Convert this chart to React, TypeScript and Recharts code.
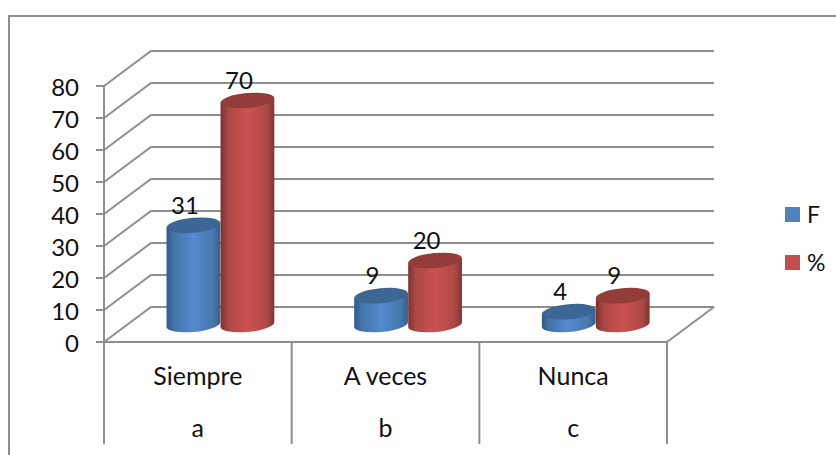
import React from 'react';
import { BarChart, Bar, XAxis, YAxis, CartesianGrid, Legend, LabelList } from 'recharts';

const categories = ['Siempre', 'A veces', 'Nunca'];
const subCategories = ['a', 'b', 'c'];
const valuesF = [31, 9, 4];
const valuesPct = [70, 20, 9];
const yTicks = [0, 10, 20, 30, 40, 50, 60, 70, 80];

const data = categories.map((name, i) => ({ name, sub: subCategories[i], F: valuesF[i], pct: valuesPct[i] }));

const FONT = 'Lato, sans-serif';
const TEXT = '#111';
const LINE = '#8e8e8e';
// depth of the fake 3D box
const DX = 47;
const DY = 35;
const TILT = (5.3 * Math.PI) / 180;
const RY = 7.5;

function GridLine(props: any) {
  const { x1, y1, x2, index } = props;
  return (
    <g fill="none" stroke={LINE} strokeWidth={2}>
      <path d={`M${x1},${y1} L${x1 + DX},${y1 - DY} L${x2 + DX},${y1 - DY}`} />
      {index === 0 || y1 > 340 ? <path d={`M${x2 + DX},${y1 - DY} L${x2},${y1}`} /> : null}
    </g>
  );
}

function Cylinder(props: any) {
  const { x, y, width, height, gradient, topColor } = props;
  const cx = x + width / 2 + DX / 2 - 0.5;
  const top = y - DY / 2;
  const bottom = y + height - DY / 2;
  const rx = width / 2;
  const ex = rx * Math.cos(TILT);
  const ey = rx * Math.sin(TILT);
  const rot = -5.3;
  const body = `M${cx - ex},${top + ey} L${cx - ex},${bottom + ey} A${rx},${RY} ${rot} 0 0 ${cx + ex},${bottom - ey} L${cx + ex},${top - ey} Z`;
  return (
    <g>
      <path d={body} fill={`url(#${gradient})`} />
      <ellipse cx={cx} cy={top} rx={rx} ry={RY} fill={topColor} transform={`rotate(${rot} ${cx} ${top})`} />
    </g>
  );
}

function BarValue(props: any) {
  const { x, y, width, value } = props;
  return (
    <text x={x + width / 2 + DX / 2 - 9} y={y - DY / 2 - 21} textAnchor="middle" dominantBaseline="central" fontFamily={FONT} fontSize={24} fill={TEXT}>
      {value}
    </text>
  );
}

function CategoryTick(props: any) {
  const { x, y, index, payload, width, visibleTicksCount } = props;
  const band = width / visibleTicksCount;
  const left = x - band / 2;
  const right = x + band / 2;
  return (
    <g>
      <line x1={left} x2={left} y1={y} y2={444} stroke={LINE} strokeWidth={2} />
      {index === categories.length - 1 ? <line x1={right} x2={right} y1={y} y2={444} stroke={LINE} strokeWidth={2} /> : null}
      <text x={x} y={375} textAnchor="middle" dominantBaseline="central" fontFamily={FONT} fontSize={25} fill={TEXT}>
        {payload.value}
      </text>
      <text x={x} y={427} textAnchor="middle" dominantBaseline="central" fontFamily={FONT} fontSize={25} fill={TEXT}>
        {subCategories[index]}
      </text>
    </g>
  );
}

function LegendBox(props: any) {
  return (
    <div>
      {props.payload.map((item: any) => (
        <div key={item.value} style={{ display: 'flex', alignItems: 'center', height: 48, fontFamily: FONT, fontSize: 23, color: TEXT }}>
          <span style={{ width: 15, height: 15, background: item.color, marginRight: 7 }} />
          {item.value}
        </div>
      ))}
    </div>
  );
}

export default function App() {
  return (
    <div style={{ position: 'absolute', left: 0, top: 0, width: 836, height: 455, background: '#fff', overflow: 'hidden' }}>
      <div style={{ position: 'absolute', left: 8, top: 15, width: 840, height: 460, borderLeft: `2px solid ${LINE}`, borderTop: `2px solid ${LINE}` }} />
      <div style={{ position: 'absolute', left: 0, top: 0 }}>
        <BarChart
          width={836}
          height={455}
          data={data}
          margin={{ top: 86, right: 119, left: 0, bottom: 11 }}
          barCategoryGap="21%"
          barGap={0}
        >
          <defs>
            <linearGradient id="cylBlue" x1="0" x2="1" y1="0" y2="0">
              <stop offset="0" stopColor="#305a88" />
              <stop offset="0.14" stopColor="#4474ab" />
              <stop offset="0.5" stopColor="#548bcf" />
              <stop offset="0.86" stopColor="#4678ae" />
              <stop offset="1" stopColor="#35608c" />
            </linearGradient>
            <linearGradient id="cylRed" x1="0" x2="1" y1="0" y2="0">
              <stop offset="0" stopColor="#7c3230" />
              <stop offset="0.14" stopColor="#ac4745" />
              <stop offset="0.5" stopColor="#cb5250" />
              <stop offset="0.86" stopColor="#ad4947" />
              <stop offset="1" stopColor="#7f3533" />
            </linearGradient>
          </defs>
          <CartesianGrid vertical={false} horizontal={(p: any) => <GridLine key={p.key} {...p} />} />
          <XAxis
            dataKey="name"
            height={102}
            axisLine={{ stroke: LINE, strokeWidth: 2 }}
            tickLine={false}
            tickSize={0}
            tickMargin={0}
            interval={0}
            tick={<CategoryTick />}
          />
          <YAxis
            domain={[0, 80]}
            ticks={yTicks}
            width={104}
            interval={0}
            tickSize={8}
            tickMargin={17}
            axisLine={{ stroke: LINE, strokeWidth: 2 }}
            tickLine={{ stroke: LINE, strokeWidth: 2 }}
            tick={{ fontFamily: FONT, fontSize: 24, fill: TEXT, dy: 1 }}
          />
          <Legend
            layout="vertical"
            align="right"
            itemSorter="dataKey"
            content={<LegendBox />}
            wrapperStyle={{ position: 'absolute', left: 785, top: 190, width: 50 }}
          />
          <Bar dataKey="F" name="F" fill="#4f81bd" isAnimationActive={false} shape={<Cylinder gradient="cylBlue" topColor="#3c6694" />}>
            <LabelList dataKey="F" content={<BarValue />} />
          </Bar>
          <Bar dataKey="pct" name="%" fill="#c0504d" isAnimationActive={false} shape={<Cylinder gradient="cylRed" topColor="#933c3a" />}>
            <LabelList dataKey="pct" content={<BarValue />} />
          </Bar>
        </BarChart>
      </div>
    </div>
  );
}
